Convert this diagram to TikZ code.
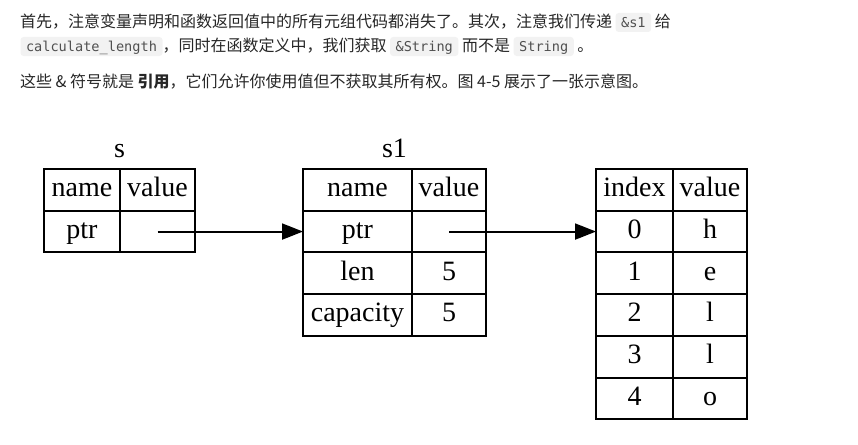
\documentclass[tikz,border=0pt]{standalone}
\usepackage{fontspec}
\setmainfont{Liberation Serif}
\newfontfamily\cjk{Noto Sans CJK SC}
\newfontfamily\codefont{DejaVu Sans Mono}
\usetikzlibrary{arrows.meta,positioning}
\definecolor{bodytext}{HTML}{262626}
\definecolor{codebg}{HTML}{F2F2F2}
\definecolor{codetext}{HTML}{505050}

\begin{document}
\begin{tikzpicture}[x=1pt,y=-1pt]

\tikzset{
	cell/.style={
		draw=black,
		rectangle,
		line width=2pt,
		minimum height=41.7pt,
		inner sep=0pt,
		outer sep=0pt,
		text height=21pt,
		text depth=7pt,
		font=\fontsize{28}{30}\selectfont},
	namecol/.style={
		cell,
		minimum width=#1},
	title/.style={
		anchor=base,
		inner sep=0pt,
		font=\fontsize{28}{30}\selectfont},
	prose/.style={
		anchor=base west,
		inner sep=0pt,
		outer sep=0pt,
		text=bodytext,
		font=\cjk\fontsize{16}{20}\selectfont},
	code/.style={
		anchor=base west,
		fill=codebg,
		rounded corners=3pt,
		inner xsep=5.5pt,
		inner ysep=2.5pt,
		outer sep=0pt,
		text height=12pt,
		text depth=2pt,
		text=codetext,
		font=\codefont\fontsize{13.6}{16}\selectfont},
	ptr/.style={
		line width=2pt,
		-{Triangle[length=21pt,width=16pt]}}
}

\useasboundingbox (0,0) rectangle (858,444);

% text above the figure
\node[prose] (l1a) at (20,27.5) {首先，注意变量声明和函数返回值中的所有元组代码都消失了。其次，注意我们传递};
\node[code,base right=3.6pt of l1a] (l1c) {\&s1};
\node[prose,base right=3.6pt of l1c] (l1b) {给};

\node[code] (l2c) at (20.5,51.5) {calculate\_length};
\node[prose,base right=0pt of l2c] (l2a) {，同时在函数定义中，我们获取};
\node[code,base right=3.6pt of l2a] (l2d) {\&String};
\node[prose,base right=3.6pt of l2d] (l2b) {而不是};
\node[code,base right=3.6pt of l2b] (l2e) {String};
\node[prose,base right=3.6pt of l2e] (l2f) {。};

\node[prose] (l3) at (20,87) {这些 \& 符号就是 \textbf{引用}，它们允许你使用值但不获取其所有权。图 4-5 展示了一张示意图。};

% s
\node[title] (s-t) at (119.5,157) {s};
\node[namecol=76pt,anchor=north west] (s-n) at (44,169) {name};
\node[namecol=75pt,right=0pt of s-n] (s-v) {value};
\node[namecol=76pt,below=0pt of s-n] (s-p) {ptr};
\node[namecol=75pt,below=0pt of s-v] (s-pv) {};

% s1
\node[title] (s1-t) at (394.5,157) {s1};
\node[namecol=109pt,anchor=north west] (s1-n) at (303,169) {name};
\node[namecol=74pt,right=0pt of s1-n] (s1-v) {value};
\node[namecol=109pt,below=0pt of s1-n] (s1-p) {ptr};
\node[namecol=74pt,below=0pt of s1-v] (s1-pv) {};
\node[namecol=109pt,below=0pt of s1-p] (s1-l) {len};
\node[namecol=74pt,below=0pt of s1-pv] (s1-lv) {5};
\node[namecol=109pt,below=0pt of s1-l] (s1-c) {capacity};
\node[namecol=74pt,below=0pt of s1-lv] (s1-cv) {5};

% heap
\node[namecol=77pt,anchor=north west] (h-i) at (596,169) {index};
\node[namecol=74pt,right=0pt of h-i] (h-v) {value};
\node[namecol=77pt,below=0pt of h-i] (h-i0) {0};
\node[namecol=74pt,below=0pt of h-v] (h-v0) {h};
\node[namecol=77pt,below=0pt of h-i0] (h-i1) {1};
\node[namecol=74pt,below=0pt of h-v0] (h-v1) {e};
\node[namecol=77pt,below=0pt of h-i1] (h-i2) {2};
\node[namecol=74pt,below=0pt of h-v1] (h-v2) {l};
\node[namecol=77pt,below=0pt of h-i2] (h-i3) {3};
\node[namecol=74pt,below=0pt of h-v2] (h-v3) {l};
\node[namecol=77pt,below=0pt of h-i3] (h-i4) {4};
\node[namecol=74pt,below=0pt of h-v3] (h-v4) {o};

\draw[ptr] (s-pv.center) -- (s1-p.west);
\draw[ptr] (s1-pv.center) -- (h-i0.west);

\end{tikzpicture}
\end{document}
